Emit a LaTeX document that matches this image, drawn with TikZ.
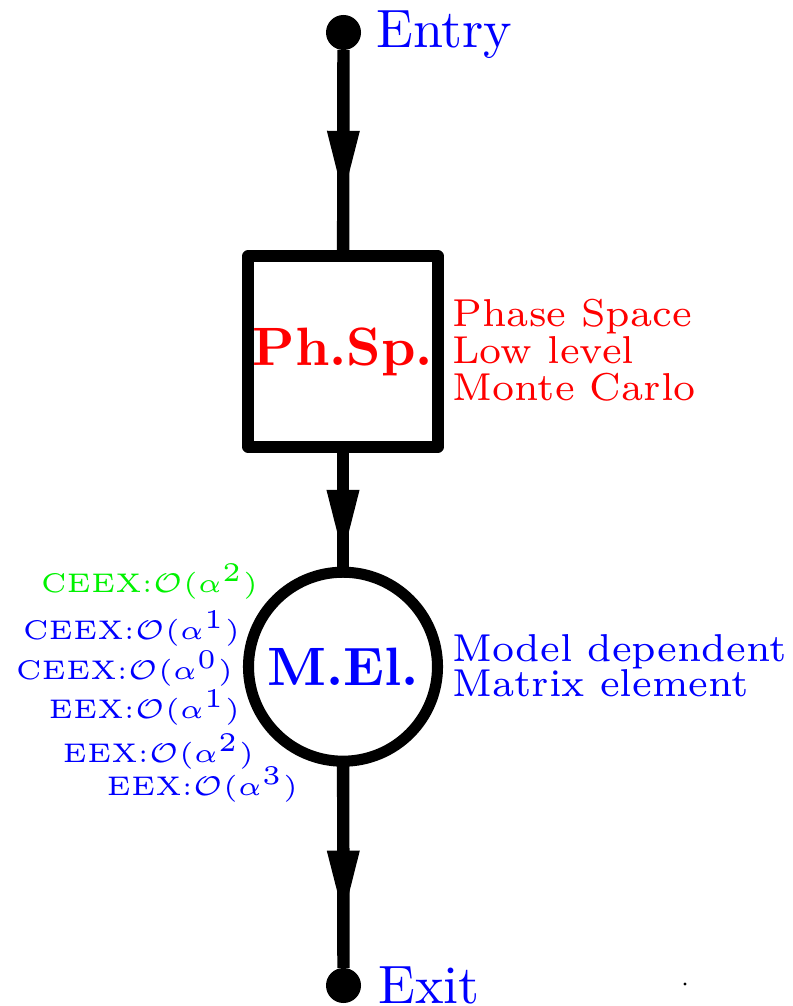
\documentclass[tikz,border=0pt]{standalone}
\usetikzlibrary{decorations.markings}
\definecolor{txtred}{rgb}{1,0,0}
\definecolor{txtblue}{rgb}{0,0,1}
\definecolor{txtgreen}{rgb}{0,0.95,0}
\tikzset{
  conn/.style={line width=2.3pt, draw=black},
  midtri/.style={postaction={decorate}, decoration={markings,
      mark=at position #1 with {\fill[black] (0,0) -- (-12.04pt,3.06pt) -- (-12.04pt,-3.06pt) -- cycle;}}},
  enddot/.style={circle, fill=black, inner sep=0pt, outer sep=0pt, minimum size={35*0.1852pt}},
  bigtext/.style={inner sep=0pt, outer sep=0pt, font=\fontsize{10}{12}\selectfont},
  midtext/.style={inner sep=0pt, outer sep=0pt, anchor=base west, font=\fontsize{7.2}{8}\selectfont},
  smalltext/.style={inner sep=0pt, outer sep=0pt, anchor=base east, font=\fontsize{5}{6}\selectfont},
  phbox/.style={rectangle, draw=black, line width=2.05pt, line join=round, inner sep=0pt, outer sep=0pt,
      minimum width={190*0.1852pt}, minimum height={191*0.1852pt}, text=txtred, font=\fontsize{10}{12}\selectfont\bfseries},
  melcirc/.style={circle, draw=black, line width=2.05pt, inner sep=0pt, outer sep=0pt,
      minimum size={189*0.1852pt}, text=txtblue, font=\fontsize{10}{12}\selectfont\bfseries}
}
\begin{document}
\begin{tikzpicture}[x=0.1852pt, y=-0.1852pt]
\useasboundingbox (0,0) rectangle (793,1006);
\fill[white] (0,0) rectangle (793,1006);
% nodes
\node[enddot] (entry) at (343.5,32.5) {};
\node[enddot] (exit) at (343.5,985.5) {};
\node[phbox] (phsp) at (343,351.5) {Ph.Sp.};
\node[melcirc] (mel) at (343,666.7) {M.El.};
% connectors
\draw[conn, midtri=27.0pt] (entry) -- (phsp);
\draw[conn, midtri=20.0pt] (phsp) -- (mel);
\draw[conn, midtri=28.6pt] (mel) -- (exit);
% labels
\node[bigtext, anchor=base west, text=txtblue] (entrylbl) at (376.5,48) {Entry};
\node[bigtext, anchor=base west, text=txtblue] (exitlbl) at (378.5,1003) {Exit};
\node[midtext, text=txtred] (ps1) at (452.5,326) {Phase Space};
\node[midtext, text=txtred] (ps2) at (452.5,363) {Low level};
\node[midtext, text=txtred] (ps3) at (452.5,400) {Monte Carlo};
\node[midtext, text=txtblue] (me1) at (452.5,661.7) {Model dependent};
\node[midtext, text=txtblue] (me2) at (452.5,696) {Matrix element};
\node[smalltext, text=txtgreen] (c2) at (258,592) {CEEX:$\mathcal{O}(\alpha^2)$};
\node[smalltext, text=txtblue] (c1) at (240,639) {CEEX:$\mathcal{O}(\alpha^1)$};
\node[smalltext, text=txtblue] (c0) at (233,679) {CEEX:$\mathcal{O}(\alpha^0)$};
\node[smalltext, text=txtblue] (e1) at (240,718) {EEX:$\mathcal{O}(\alpha^1)$};
\node[smalltext, text=txtblue] (e2) at (254,762) {EEX:$\mathcal{O}(\alpha^2)$};
\node[smalltext, text=txtblue] (e3) at (298,795) {EEX:$\mathcal{O}(\alpha^3)$};
\fill[black] (685,984) circle[radius=1.6];
\end{tikzpicture}
\end{document}
